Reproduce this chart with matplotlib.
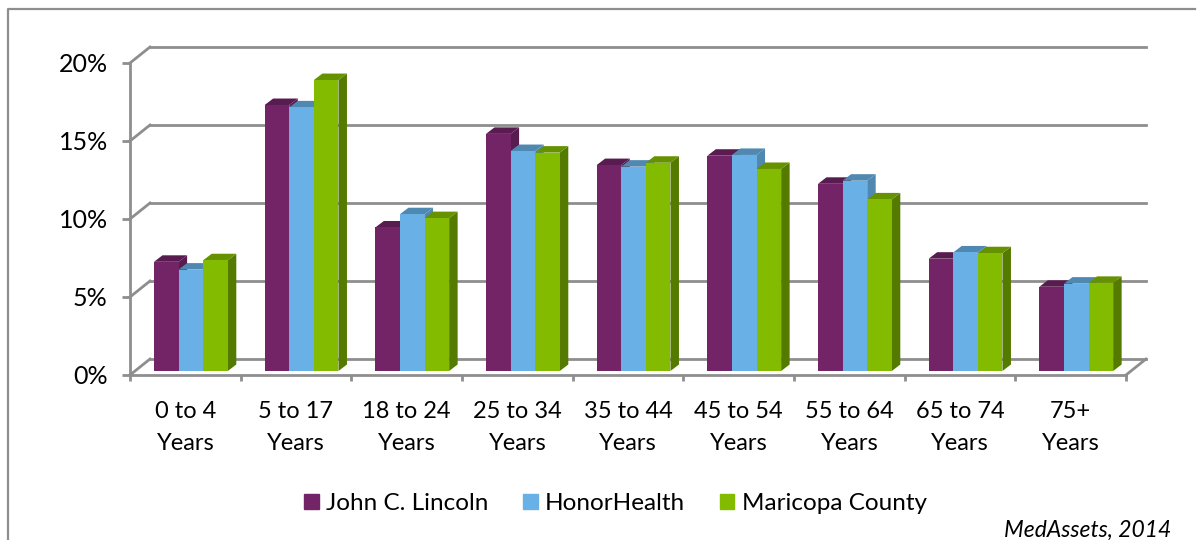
import matplotlib
matplotlib.use('Agg')
import matplotlib.pyplot as plt
from matplotlib.lines import Line2D
from matplotlib.patches import Patch, Polygon

plt.rcParams['font.family'] = ['Lato', 'DejaVu Sans']

categories = ['0 to 4\nYears', '5 to 17\nYears', '18 to 24\nYears', '25 to 34\nYears', '35 to 44\nYears',
              '45 to 54\nYears', '55 to 64\nYears', '65 to 74\nYears', '75+\nYears']
lincoln = [7.0, 17.05, 9.2, 15.2, 13.2, 13.8, 12.0, 7.2, 5.4]
honor = [6.5, 16.9, 10.05, 14.1, 13.1, 13.85, 12.2, 7.6, 5.6]
maricopa = [7.1, 18.65, 9.8, 14.0, 13.35, 12.95, 11.0, 7.55, 5.65]
yticks = [0, 5, 10, 15, 20]

W, H = 1202, 540
GREY = '#8e8e8e'
x0, x1, y0, y1 = 130, 1126, 375, 63
px = 9 / (x1 - x0)      # one pixel in x data units
py = 20 / (y0 - y1)     # one pixel in y data units

fig = plt.figure(figsize=(W / 100, H / 100), dpi=100)
ax = fig.add_axes([x0 / W, 1 - y0 / H, (x1 - x0) / W, (y0 - y1) / H])
ax.set_xlim(0, 9)
ax.set_ylim(0, 20)
ax.patch.set_visible(False)
for s in ['top', 'right']:
    ax.spines[s].set_visible(False)
for s in ['left', 'bottom']:
    ax.spines[s].set_color(GREY)
    ax.spines[s].set_linewidth(2)

# back wall and the slanted bits
dx, dy = 20 * px, 16 * py
for t in yticks:
    ax.plot([dx, 9 + dx], [t + dy, t + dy], color=GREY, lw=2, clip_on=False, zorder=1)
    ax.plot([0, dx], [t, t + dy], color=GREY, lw=2, clip_on=False, zorder=1)
ax.plot([9, 9 + dx], [0, dy], color=GREY, lw=2, clip_on=False, zorder=1)

series = [(lincoln, '#722467', '#591c50', '#591c50'),
          (honor, '#69b0e6', '#4f88b0', '#4f88b0'),
          (maricopa, '#83bb00', '#679200', '#557a00')]
bar_w = 24.6 * px
start = 24 * px
base = 4 * py
sx, sy = 8.5 * px, 6.5 * py

for i in range(len(categories)):
    for j, (vals, front, top, side) in enumerate(series):
        left = i + start + j * bar_w
        right = left + bar_w
        v = vals[i] + base
        ax.add_patch(Polygon([(right, base), (right + sx, base + sy), (right + sx, v + sy), (right, v)],
                             fc=side, ec='none', clip_on=False, zorder=2 + j * 0.1))
        ax.add_patch(Polygon([(left, v), (left + sx, v + sy), (right + sx, v + sy), (right, v)],
                             fc=top, ec='none', clip_on=False, zorder=2 + j * 0.1))
        ax.bar(left, vals[i], bar_w, bottom=base, align='edge', color=front, zorder=2.05 + j * 0.1)

ax.set_yticks(yticks)
ax.set_yticklabels(['%d%%' % t for t in yticks], fontsize=18)
ax.tick_params(axis='y', length=6, width=2, color=GREY, pad=10)
ax.set_xticks(range(10))
ax.set_xticklabels([])
ax.tick_params(axis='x', length=4.5, width=2, color=GREY)
ax.set_xticks([i + 0.5 for i in range(9)], minor=True)
ax.set_xticklabels(categories, minor=True, fontsize=17, linespacing=1.6)
ax.tick_params(axis='x', which='minor', length=0, pad=19)

handles = [Patch(color=s[1]) for s in series]
fig.legend(handles, ['John C. Lincoln', 'HonorHealth', 'Maricopa County'], ncol=3, frameon=False,
           fontsize=17.5, loc='center', bbox_to_anchor=(615.5 / W, 1 - 503.5 / H),
           handlelength=0.58, handleheight=0.58, handletextpad=0.3, columnspacing=1.45)

fig.text(1171 / W, 1 - 530 / H, 'MedAssets, 2014', ha='right', va='center', style='italic', fontsize=16.5)

# outer frame, only top and left show
fig.add_artist(Line2D([8 / W, 8 / W, 1 - 7 / W], [0, 1 - 9 / H, 1 - 9 / H], color=GREY, lw=1.6))

fig.savefig('out.png', dpi=100)
